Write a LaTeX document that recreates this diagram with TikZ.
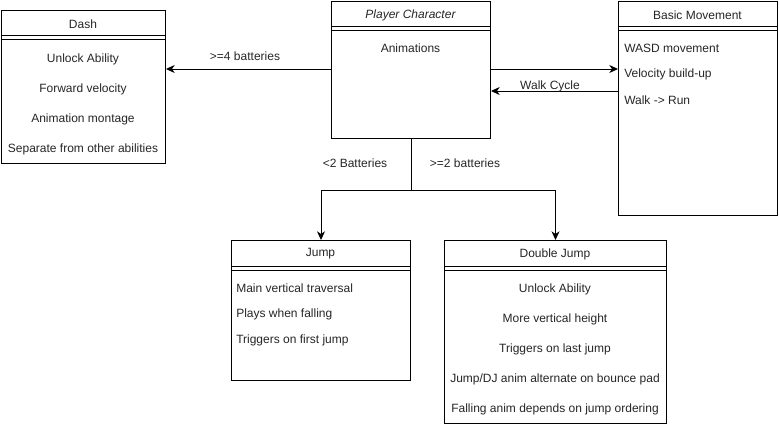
\documentclass[tikz,border=0pt]{standalone}
\usepackage{fontspec}
\setmainfont{Liberation Sans}
\usetikzlibrary{arrows.meta,calc}
\begin{document}
\begin{tikzpicture}[x=0.75pt,y=-0.75pt,
  cls/.style={draw,line width=0.75pt,anchor=north west,inner sep=0pt,fill=white},
  txt/.style={font=\fontsize{9pt}{10pt}\selectfont,inner sep=0pt,yshift=-0.75pt,text=black!85},
  conn/.style={line width=0.75pt,-{Stealth[length=6.5pt,width=6pt,inset=2pt]}},
  plain/.style={line width=0.75pt}]
\useasboundingbox (0,0) rectangle (779,425);
% boxes
\node[cls,minimum width=164*0.75pt,minimum height=153*0.75pt] (dash) at (1,10) {};
\node[cls,minimum width=159*0.75pt,minimum height=137*0.75pt] (pc) at (331,1) {};
\node[cls,minimum width=159*0.75pt,minimum height=214*0.75pt] (bm) at (618,1) {};
\node[cls,minimum width=179*0.75pt,minimum height=140*0.75pt] (jump) at (231,240) {};
\node[cls,minimum width=222*0.75pt,minimum height=183*0.75pt] (dj) at (444,240) {};
% header separators
\draw[plain] (1,35) -- (165,35) (1,39) -- (165,39);
\draw[plain] (331,26) -- (490,26) (331,30) -- (490,30);
\draw[plain] (618,26) -- (777,26) (618,30) -- (777,30);
\draw[plain] (231,266) -- (410,266) (231,270) -- (410,270);
\draw[plain] (444,266) -- (666,266) (444,270) -- (666,270);
% headers
\node[txt] (dashh) at (83,23) {Dash};
\node[txt] (pch) at (410.5,14) {\itshape Player Character};
\node[txt] (bmh) at (697.5,14) {Basic Movement};
\node[txt] (jumph) at (320.5,253) {Jump};
\node[txt] (djh) at (555,253) {Double Jump};
% Dash items
\node[txt] (d1) at (83,58) {Unlock Ability};
\node[txt] (d2) at (83,88) {Forward velocity};
\node[txt] (d3) at (83,118) {Animation montage};
\node[txt] (d4) at (83,148) {Separate from other abilities};
% PC
\node[txt] (p1) at (410.5,47) {Animations};
% BM items
\node[txt,anchor=west] (b1) at (624,47) {WASD movement};
\node[txt,anchor=west] (b2) at (624,73) {Velocity build-up};
\node[txt,anchor=west] (b3) at (624,99) {Walk -> Run};
% Jump items
\node[txt,anchor=west] (j1) at (236,287) {Main vertical traversal};
\node[txt,anchor=west] (j2) at (236,313) {Plays when falling};
\node[txt,anchor=west] (j3) at (236,339) {Triggers on first jump};
% DJ items
\node[txt] (q1) at (555,288) {Unlock Ability};
\node[txt] (q2) at (555,318) {More vertical height};
\node[txt] (q3) at (555,348) {Triggers on last jump};
\node[txt] (q4) at (555,378) {Jump/DJ anim alternate on bounce pad};
\node[txt] (q5) at (555,408) {Falling anim depends on jump ordering};
% connectors
\coordinate (pcl) at ($(pc.north west)+(0,68)$);
\draw[conn] (pcl) -- (pcl -| dash.east);
\coordinate (pcr) at ($(pc.north east)+(0,68)$);
\draw[conn] (pcr) -- (pcr -| bm.west);
\coordinate (bml) at ($(bm.north west)+(0,90)$);
\draw[conn] (bml) -- (bml -| pc.east);
\coordinate (split) at ($(pc.south)+(0,51)$);
\draw[plain] (pc.south) -- (split);
\draw[conn] (split) -| (jump.north);
\draw[conn] (split) -| (dj.north);
% labels
\node[txt] (l1) at (245,55) {>=4 batteries};
\node[txt] (l2) at (550,85) {Walk Cycle};
\node[txt] (l3) at (355,162) {<2 Batteries};
\node[txt] (l4) at (465,162) {>=2 batteries};
\end{tikzpicture}
\end{document}
